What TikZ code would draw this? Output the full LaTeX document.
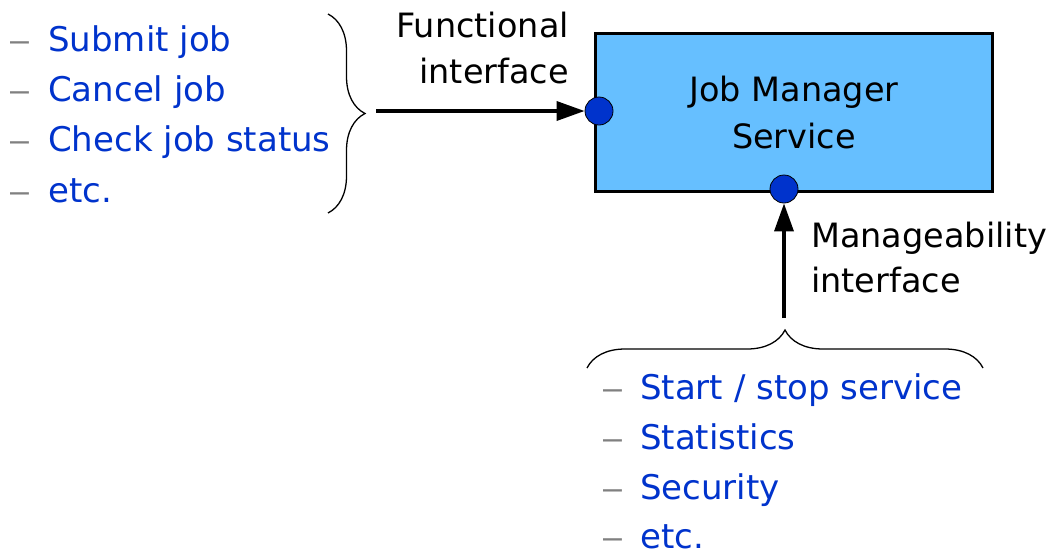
\documentclass[tikz,border=0pt]{standalone}
\usepackage{fontspec}
\setmainfont{DejaVu Sans}
\newfontfamily\dashfont{Liberation Sans}
\usetikzlibrary{arrows.meta,decorations.pathreplacing}
\definecolor{itemblue}{RGB}{0,51,204}
\definecolor{dashgray}{RGB}{128,128,128}
\definecolor{boxblue}{RGB}{102,191,255}
\definecolor{portblue}{RGB}{0,51,204}
\begin{document}
\begin{tikzpicture}[x=1pt,y=-1pt,
  txt/.style={font=\fontsize{33.5}{47}\selectfont, inner sep=0pt},
  lbl/.style={txt, text=black},
  item/.style={font=\fontsize{34}{47}\selectfont, inner sep=0pt, text=itemblue, anchor=base west},
  bul/.style={font=\dashfont\fontsize{34}{47}\selectfont, inner sep=0pt, text=dashgray, anchor=base west},
  service/.style={draw=black, line width=3pt, fill=boxblue, minimum width=397pt, minimum height=158pt, inner sep=0pt, txt, align=center},
  port/.style={circle, draw=black, line width=0.8pt, fill=portblue, minimum size=28pt, inner sep=0pt},
  conn/.style={line width=3.5pt, -{Triangle[length=28pt,width=19pt]}},
  brc/.style={decorate, decoration={brace, amplitude=#1}, line width=1.3pt}
]
\useasboundingbox (0,0) rectangle (1048,555);
\fill[white] (0,0) rectangle (1048,555);

% service box
\node[service] (svc) at (794,112.5) {Job Manager\\Service};
\node[port] (lport) at (599,111) {};
\node[port] (bport) at (784,189) {};

% left list
\node[bul] (ld1) at (10,51) {–};  \node[item] (li1) at (48,51) {Submit job};
\node[bul] (ld2) at (10,101) {–}; \node[item] (li2) at (48,101) {Cancel job};
\node[bul] (ld3) at (10,151) {–}; \node[item] (li3) at (48,151) {Check job status};
\node[bul] (ld4) at (10,202) {–}; \node[item] (li4) at (48,202) {etc.};
% bottom list
\node[bul] (bd1) at (603,399) {–}; \node[item] (bi1) at (640,399) {Start / stop service};
\node[bul] (bd2) at (603,449) {–}; \node[item] (bi2) at (640,449) {Statistics};
\node[bul] (bd3) at (603,499) {–}; \node[item] (bi3) at (640,499) {Security};
\node[bul] (bd4) at (603,548) {–}; \node[item] (bi4) at (640,548) {etc.};

% braces
\draw[brc=37pt] (328,14) -- (328,213);
\draw[brc=38pt] (587,368) -- (983,368);
\coordinate (ftip) at (376,111);
\coordinate (mtip) at (784,318);

% labels
\node[lbl, anchor=base east] (f1) at (569,37) {Functional};
\node[lbl, anchor=base east] (f2) at (569,83) {interface};
\node[lbl, anchor=base west] (m1) at (811,247) {Manageability};
\node[lbl, anchor=base west] (m2) at (811,292) {interface};

% connectors
\draw[conn] (ftip) -- (lport);
\draw[conn] (mtip) -- (bport);
\end{tikzpicture}
\end{document}
